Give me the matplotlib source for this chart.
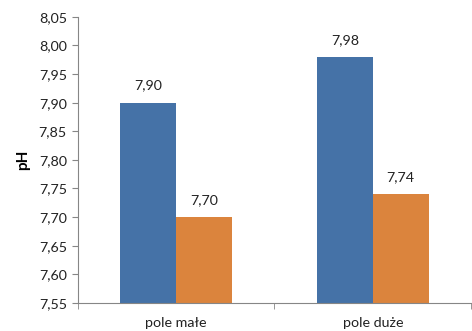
import matplotlib
matplotlib.use("Agg")
import matplotlib.pyplot as plt
from matplotlib.ticker import FixedLocator, FuncFormatter
import numpy as np

categories = ["pole małe", "pole duże"]
series_a = [7.90, 7.98]
series_b = [7.70, 7.74]
y_ticks = [7.55, 7.60, 7.65, 7.70, 7.75, 7.80, 7.85, 7.90, 7.95, 8.00, 8.05]

plt.rcParams["font.family"] = ["Lato", "DejaVu Sans"]

fig = plt.figure(figsize=(4.72, 3.31), dpi=100)
ax = fig.add_axes([0.165, 0.085, 0.833, 0.864])

blue = "#4572A7"
orange = "#DB843D"
width = 0.284
x = np.arange(len(categories))
base = 7.55

ax.bar(x - width / 2, np.array(series_a) - base, width, bottom=base, color=blue)
ax.bar(x + width / 2, np.array(series_b) - base, width, bottom=base, color=orange)

def comma(v):
    return f"{v:.2f}".replace(".", ",")

for xs, vals in ((x - width / 2, series_a), (x + width / 2, series_b)):
    for xi, v in zip(xs, vals):
        ax.annotate(comma(v), (xi, v), xytext=(0, 8), textcoords="offset points",
                    ha="center", va="bottom", fontsize=10.3, color="#222222")

ax.set_xlim(-0.5, 1.5)
ax.set_ylim(7.55, 8.05)
ax.yaxis.set_major_locator(FixedLocator(y_ticks))
ax.yaxis.set_major_formatter(FuncFormatter(lambda v, p: comma(v)))

ax.set_xticks(x)
ax.set_xticklabels(categories)
ax.xaxis.set_minor_locator(FixedLocator([-0.5, 0.5, 1.5]))
ax.tick_params(axis="x", which="major", length=0, pad=10, labelsize=10.3, colors="#222222")
ax.tick_params(axis="x", which="minor", length=4, color="#868686")
ax.tick_params(axis="y", length=4, color="#868686", labelsize=10.3, labelcolor="#222222", pad=4)

for s in ("top", "right"):
    ax.spines[s].set_visible(False)
for s in ("left", "bottom"):
    ax.spines[s].set_color("#868686")
    ax.spines[s].set_linewidth(0.8)

ax.set_ylabel("pH", fontsize=11, fontweight="bold", labelpad=6)

fig.savefig("out.png", dpi=100)
